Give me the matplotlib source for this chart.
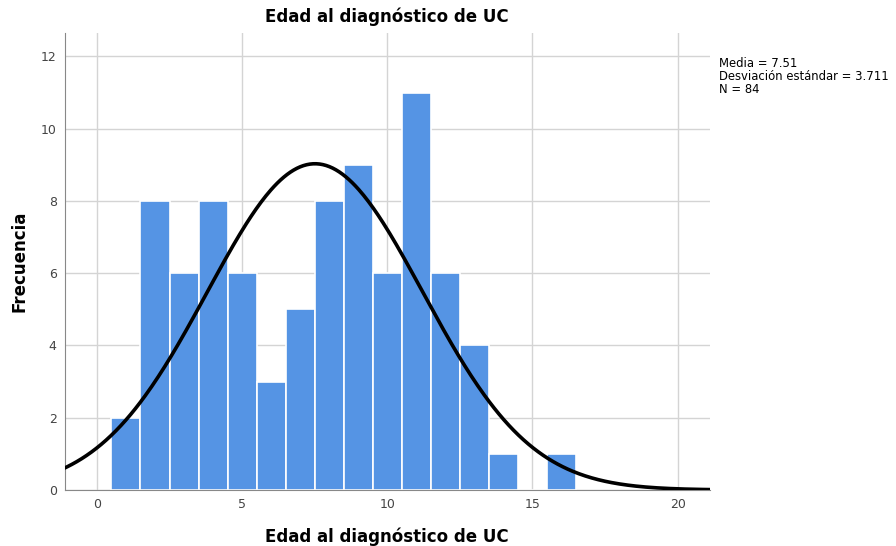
import numpy as np
from matplotlib import pyplot as plt

edad = list(range(1, 17))
frecuencia = [2, 8, 6, 8, 6, 3, 5, 8, 9, 6, 11, 6, 4, 1, 0, 1]
media = 7.51
desv = 3.711
n = 84

fig = plt.figure(figsize=(8.96, 5.46), dpi=100)
ax = fig.add_axes([0.0725, 0.1026, 0.7195, 0.837])

ax.bar(edad, frecuencia, width=1.0, color="#5594e4", edgecolor="white", linewidth=1.2, zorder=2)

x = np.linspace(-1.2, 21.2, 400)
y = n * 1.0 / (desv * np.sqrt(2 * np.pi)) * np.exp(-0.5 * ((x - media) / desv) ** 2)
ax.plot(x, y, color="black", linewidth=2.6, zorder=3)

ax.set_xlim(-1.1, 21.1)
ax.set_ylim(0, 12.65)
ax.set_xticks([0, 5, 10, 15, 20])
ax.set_yticks([0, 2, 4, 6, 8, 10, 12])
ax.grid(True, color="#d4d4d4", linewidth=1.0, zorder=0)
ax.set_axisbelow(True)
for s in ["top", "right"]:
    ax.spines[s].set_visible(False)
for s in ["left", "bottom"]:
    ax.spines[s].set_color("#888888")
ax.tick_params(length=0, labelsize=9, colors="#444444", pad=6)

ax.set_title("Edad al diagnóstico de UC", fontsize=12, fontweight="bold", pad=8)
ax.set_xlabel("Edad al diagnóstico de UC", fontsize=12, fontweight="bold")
ax.xaxis.set_label_coords(0.5, -0.083)
ax.set_ylabel("Frecuencia", fontsize=12, fontweight="bold")
ax.yaxis.set_label_coords(-0.057, 0.5)

fig.text(0.802, 0.895, "Media = %.2f\nDesviación estándar = %.3f\nN = %d" % (media, desv, n),
         fontsize=8.4, va="top", ha="left", linespacing=1.0)

plt.savefig("out.png", dpi=100)
